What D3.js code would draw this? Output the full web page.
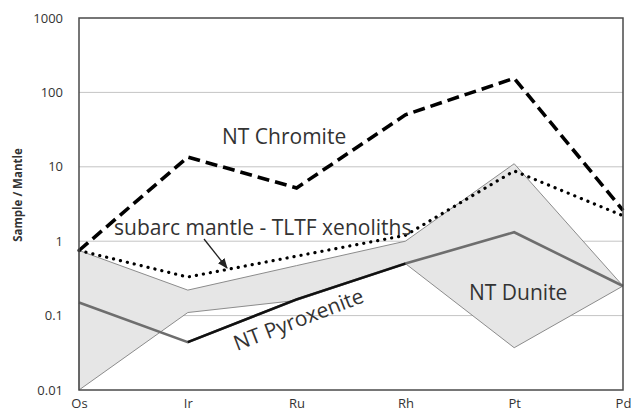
<!DOCTYPE html>
<html><head><meta charset="utf-8">
<script src="https://cdn.jsdelivr.net/npm/d3@7"></script>
<style>body{margin:0;background:#fff}svg{display:block}text{font-family:"Open Sans",sans-serif}</style>
</head><body><svg id="c" width="632" height="417"></svg>
<script>
const elements = ["Os","Ir","Ru","Rh","Pt","Pd"];
const yTicks = [0.01,0.1,1,10,100,1000];
const yTickLabels = ["0.01","0.1","1","10","100","1000"];
const chromite = [0.75,13.5,5.2,50,155,2.6];
const subarcMantle = [0.75,0.33,0.63,1.2,8.8,2.2];
const duniteUpper = [0.75,0.22,0.47,1.0,11,0.25];
const duniteLower = [0.01,0.11,0.16,0.5,0.037,0.25];
const duniteMean = [0.15,0.044,0.165,0.5,1.32,0.25];
const pyroxenite = [null,0.044,0.165,0.5,null,null];

const svg = d3.select("#c");
const x = d3.scalePoint().domain(elements).range([79,623]);
const y = d3.scaleLog().domain([0.01,1000]).range([390,18]);

// gridlines
svg.append("g").selectAll("line").data(yTicks.slice(1,-1)).join("line")
  .attr("x1",79).attr("x2",623).attr("y1",d=>y(d)).attr("y2",d=>y(d))
  .attr("stroke","#c4c4c4").attr("stroke-width",1);

// band
const band = elements.map((e,i)=>({e,lo:duniteLower[i],hi:duniteUpper[i]}));
svg.append("path").datum(band)
  .attr("d",d3.area().x(d=>x(d.e)).y0(d=>y(d.lo)).y1(d=>y(d.hi)))
  .attr("fill","#e6e6e6").attr("stroke","#8c8c8c").attr("stroke-width",1);

const line = d3.line().defined(d=>d.v!=null).x(d=>x(d.e)).y(d=>y(d.v));
const ser = arr => elements.map((e,i)=>({e,v:arr[i]}));

svg.append("path").datum(ser(duniteMean)).attr("d",line)
  .attr("fill","none").attr("stroke","#6e6e6e").attr("stroke-width",2.6);
svg.append("path").datum(ser(pyroxenite)).attr("d",line)
  .attr("fill","none").attr("stroke","#111").attr("stroke-width",2.4);
svg.append("path").datum(ser(subarcMantle)).attr("d",line)
  .attr("fill","none").attr("stroke","#000").attr("stroke-width",3.2)
  .attr("stroke-linecap","round").attr("stroke-dasharray","0.1,7");
svg.append("path").datum(ser(chromite)).attr("d",line)
  .attr("fill","none").attr("stroke","#000").attr("stroke-width",3.6)
  .attr("stroke-dasharray","12,6");

// frame
svg.append("rect").attr("x",79).attr("y",18).attr("width",544).attr("height",372)
  .attr("fill","none").attr("stroke","#4a4a4a").attr("stroke-width",1.5);

// axes
const yAxis = d3.axisLeft(y).tickValues(yTicks).tickFormat((d,i)=>yTickLabels[i]).tickSize(0).tickPadding(16);
const ga = svg.append("g").attr("transform","translate(79,0)").call(yAxis);
ga.select(".domain").remove();
ga.selectAll("text").attr("font-size",13).attr("fill","#333").attr("font-family","Open Sans");
const xAxis = d3.axisBottom(x).tickSize(0).tickPadding(9);
const gx = svg.append("g").attr("transform","translate(0,390)").call(xAxis);
gx.select(".domain").remove();
gx.selectAll("text").attr("font-size",13).attr("fill","#333").attr("font-family","Open Sans");

svg.append("text").attr("transform","translate(22,195) rotate(-90)").attr("text-anchor","middle")
  .attr("font-size",11.5).attr("font-weight","bold").attr("fill","#333").text("Sample / Mantle");

// annotations
const lab = (t,xx,yy,rot)=>svg.append("text").attr("transform",`translate(${xx},${yy})`+(rot?` rotate(${rot})`:""))
  .attr("font-size",21).attr("fill","#333").text(t);
lab("NT Chromite",222,144);
lab("subarc mantle - TLTF xenoliths",114,235);
lab("NT Pyroxenite",237,351,-21);
lab("NT Dunite",469,300);

// arrow
svg.append("defs").append("marker").attr("id","ah").attr("viewBox","0 0 10 10").attr("refX",9).attr("refY",5)
  .attr("markerWidth",8).attr("markerHeight",8).attr("orient","auto")
  .append("path").attr("d","M0,1 L10,5 L0,9 Z").attr("fill","#222");
svg.append("line").attr("x1",204).attr("y1",239).attr("x2",227).attr("y2",268)
  .attr("stroke","#222").attr("stroke-width",1.3).attr("marker-end","url(#ah)");
</script></body></html>
